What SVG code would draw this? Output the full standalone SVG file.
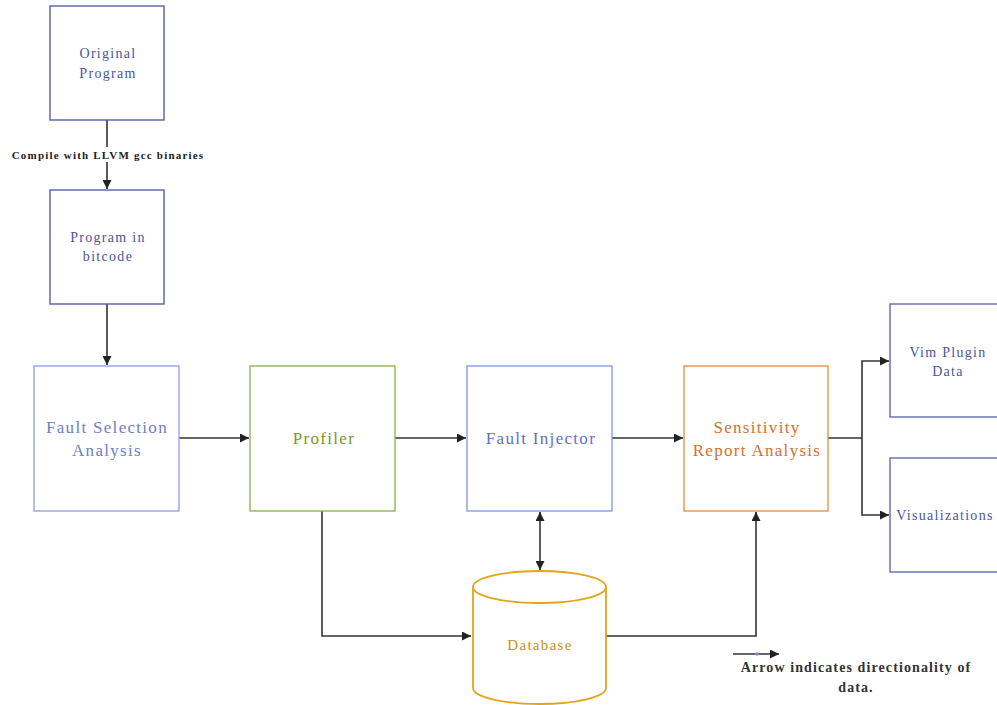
<svg xmlns="http://www.w3.org/2000/svg" width="997" height="705" viewBox="0 0 997 705">
<style>
.box{fill:#fff;stroke-width:1.3}
.t{font-family:"Liberation Serif","DejaVu Serif",serif;text-anchor:middle;letter-spacing:1.3px}
.c{fill:none;stroke:#333;stroke-width:1.6}
</style>
<defs>
<marker id="ah2" viewBox="0 0 10 10" refX="10" refY="5" markerWidth="9" markerHeight="9" orient="auto-start-reverse" markerUnits="userSpaceOnUse">
<path d="M0,0 L10,5 L0,10 z" fill="#222"/>
</marker>
</defs>
<rect width="997" height="705" fill="#fff"/>
<g id="connectors">
<line class="c" x1="107" y1="120" x2="107" y2="189" marker-end="url(#ah2)"/>
<line class="c" x1="107" y1="304" x2="107" y2="365" marker-end="url(#ah2)"/>
<line class="c" x1="179" y1="438" x2="249" y2="438" marker-end="url(#ah2)"/>
<line class="c" x1="395" y1="438" x2="466" y2="438" marker-end="url(#ah2)"/>
<line class="c" x1="612" y1="438" x2="683" y2="438" marker-end="url(#ah2)"/>
<polyline class="c" points="828,438 862,438"/>
<polyline class="c" points="889,361 862,361 862,515 889,515" marker-start="url(#ah2)" marker-end="url(#ah2)"/>
<polyline class="c" points="322,511 322,636 471,636" marker-end="url(#ah2)"/>
<line class="c" x1="540" y1="512" x2="540" y2="570" marker-start="url(#ah2)" marker-end="url(#ah2)"/>
<polyline class="c" points="606,636 756,636 756,512" marker-end="url(#ah2)"/>
<line class="c" x1="733" y1="654" x2="779" y2="654" marker-end="url(#ah2)"/>
<circle cx="757" cy="654" r="1.8" fill="#8090d0"/>
</g>
<g id="original-program">
<rect class="box" x="50" y="6" width="114" height="114" stroke="#4a55a0"/>
<text class="t" x="108" y="58" font-size="14" fill="#4a55a0">Original</text>
<text class="t" x="108" y="78" font-size="14" fill="#4a55a0">Program</text>
</g>
<g id="compile-label">
<rect x="8" y="147" width="200" height="15" fill="#fff"/>
<text class="t" x="108" y="159" font-size="11" font-weight="bold" fill="#222" style="letter-spacing:1.2px">Compile with LLVM gcc binaries</text>
</g>
<g id="program-bitcode">
<rect class="box" x="50" y="190" width="114" height="114" stroke="#4a55a0"/>
<text class="t" x="108" y="242" font-size="14" fill="#4a55a0">Program in</text>
<text class="t" x="108" y="261" font-size="14" fill="#4a55a0">bitcode</text>
</g>
<g id="fault-selection">
<rect class="box" x="34" y="366" width="145" height="145" stroke="#8f9be0"/>
<text class="t" x="107" y="433" font-size="17" fill="#7080c8">Fault Selection</text>
<text class="t" x="107" y="456" font-size="17" fill="#7080c8">Analysis</text>
</g>
<g id="profiler">
<rect class="box" x="250" y="366" width="145" height="145" stroke="#88b04a"/>
<text class="t" x="324" y="444" font-size="17" fill="#7a9a20">Profiler</text>
</g>
<g id="fault-injector">
<rect class="box" x="467" y="366" width="145" height="145" stroke="#7c95e8"/>
<text class="t" x="541" y="444" font-size="17" fill="#5f72c8">Fault Injector</text>
</g>
<g id="sensitivity">
<rect class="box" x="684" y="366" width="144" height="145" stroke="#e8883a"/>
<text class="t" x="757" y="433" font-size="17" fill="#d4702a">Sensitivity</text>
<text class="t" x="757" y="456" font-size="17" fill="#d4702a">Report Analysis</text>
</g>
<g id="vim-plugin">
<rect class="box" x="890" y="304" width="115" height="113" stroke="#5560a8"/>
<text class="t" x="948" y="357" font-size="14" fill="#4a55a0">Vim Plugin</text>
<text class="t" x="948" y="376" font-size="14" fill="#4a55a0">Data</text>
</g>
<g id="visualizations">
<rect class="box" x="890" y="458" width="115" height="114" stroke="#5560a8"/>
<text class="t" x="945" y="520" font-size="14" fill="#4a55a0">Visualizations</text>
</g>
<g id="database">
<path d="M473,587 L473,688 A66.5,16 0 0 0 606,688 L606,587" fill="#fff" stroke="#e2a516" stroke-width="1.8"/>
<ellipse cx="539.5" cy="587" rx="66.5" ry="16" fill="#fff" stroke="#e2a516" stroke-width="1.8"/>
<text class="t" x="540" y="650" font-size="15" fill="#c8901a">Database</text>
</g>
<g id="legend">
<text class="t" x="856" y="672" font-size="14" font-weight="bold" fill="#333" style="letter-spacing:1.1px">Arrow indicates directionality of</text>
<text class="t" x="856" y="692" font-size="14" font-weight="bold" fill="#333" style="letter-spacing:1.1px">data.</text>
</g>
</svg>
